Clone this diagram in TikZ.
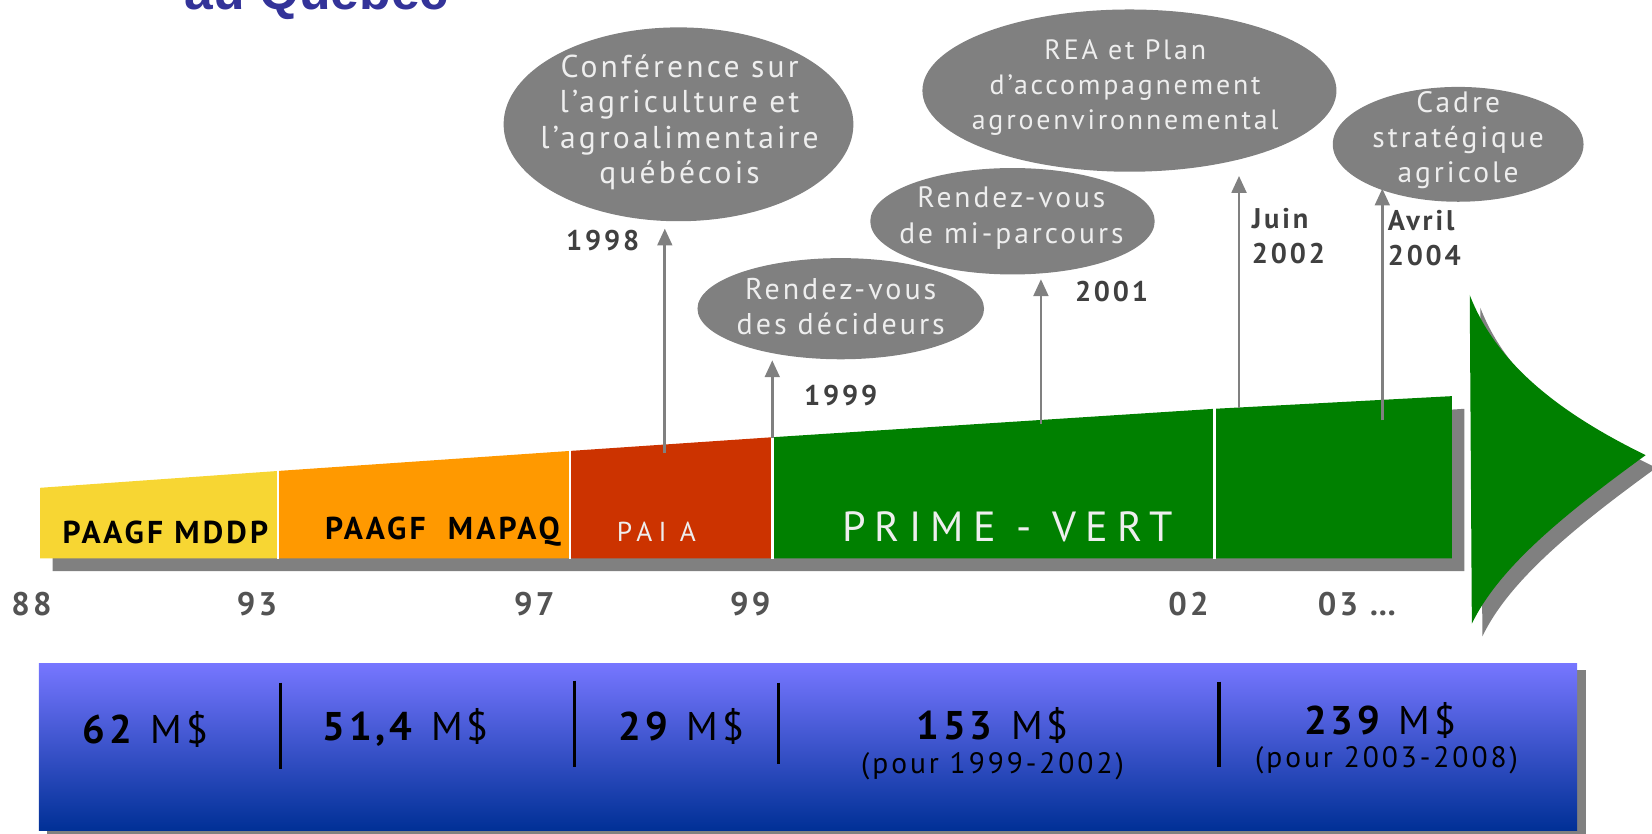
\documentclass[tikz,border=0pt]{standalone}
\usepackage{fontspec}
\setmainfont{PT Sans}
\newfontfamily\spacedfont{PT Sans}[LetterSpace=10]
\newfontfamily\widefont{PT Sans}[LetterSpace=22]
\newfontfamily\titlefont{Liberation Sans}
\usetikzlibrary{shapes.geometric,arrows.meta}

\definecolor{paagfyellow}{RGB}{247,214,51}
\definecolor{mapaqorange}{RGB}{255,153,0}
\definecolor{paiared}{RGB}{204,51,0}
\definecolor{primegreen}{RGB}{0,128,0}
\definecolor{shadowgray}{RGB}{128,128,128}
\definecolor{yeargray}{RGB}{64,64,64}
\definecolor{lighttext}{RGB}{238,238,238}
\definecolor{titleblue}{RGB}{51,51,153}
\definecolor{paneltop}{RGB}{118,118,255}
\definecolor{panelmid}{RGB}{82,88,214}
\definecolor{panelbottom}{RGB}{0,48,150}

\tikzset{
  bubble/.style={ellipse, fill=shadowgray, inner sep=0pt},
  bubbletext/.style={text=lighttext, align=center, inner sep=0pt,
    font=\spacedfont\fontsize{#1}{33.5}\selectfont},
  year/.style={text=yeargray, align=left, inner sep=0pt,
    font=\spacedfont\bfseries\fontsize{27}{34}\selectfont},
  tick/.style={text=yeargray!90, inner sep=0pt,
    font=\spacedfont\bfseries\fontsize{31}{34}\selectfont},
  pointer/.style={draw=shadowgray, line width=2.5pt,
    -{Triangle[length=16pt,width=14pt]}},
  bandtext/.style={inner sep=0pt, font=\spacedfont\bfseries\fontsize{30}{34}\selectfont},
  money/.style={inner sep=0pt, align=center, font=\spacedfont\fontsize{38}{42}\selectfont},
  moneysub/.style={inner sep=0pt, font=\spacedfont\fontsize{28}{32}\selectfont},
  divider/.style={draw=black, line width=3pt}
}

\begin{document}
\begin{tikzpicture}[x=1pt, y=-1pt]

\useasboundingbox (0,0) rectangle (1568,791);

\pgfmathsetmacro\bot{530}

% title, cut at the top of the page
\node[anchor=base west, inner sep=0pt, text=titleblue,
  font=\titlefont\bfseries\fontsize{49}{55}\selectfont] (title) at (175,9) {au Québec};

% plot the band shadow
\fill[shadowgray] (50,475) -- (1390,388) -- (1390,\bot+12) -- (50,\bot+12) -- cycle;

% plot the band
\fill[paagfyellow] (38,463) -- (264,447) -- (264,\bot) -- (38,\bot) -- cycle;
\fill[mapaqorange] (264,447) -- (541,428) -- (541,\bot) -- (264,\bot) -- cycle;
\fill[paiared] (541,428) -- (733,415) -- (733,\bot) -- (541,\bot) -- cycle;
\fill[primegreen] (733,415) -- (1153,388) -- (1153,\bot) -- (733,\bot) -- cycle;
\fill[primegreen] (1153,388) -- (1378,376) -- (1378,\bot) -- (1153,\bot) -- cycle;
\foreach \sx/\sy in {264/446, 541/427, 733/414, 1153/387}
  \draw[white, line width=2.5pt] (\sx,\sy) -- (\sx,\bot+1);

\node[bandtext] (mddp) at (157,505) {PAAGF MDDP};
\node[bandtext] (mapaq) at (420,505) {PAAGF\ \ MAPAQ};
\node[bandtext, text=lighttext, font=\widefont\fontsize{26}{30}\selectfont] (paia) at (623,505) {PAI A};
\node[inner sep=0pt, text=lighttext, font=\widefont\fontsize{40}{44}\selectfont] (prime) at (956,500) {PRIME - VERT};

% plot the arrow head
\fill[shadowgray, shift={(10,12)}] (1395,280) .. controls (1420,345) and (1480,392) .. (1562,432)
  .. controls (1482,490) and (1422,540) .. (1397,592) -- cycle;
\fill[primegreen] (1395,280) .. controls (1420,345) and (1480,392) .. (1562,432)
  .. controls (1482,490) and (1422,540) .. (1397,592) -- cycle;

% years under the band
\node[tick] (y88) at (30,573) {88};
\node[tick] (y93) at (244,573) {93};
\node[tick] (y97) at (507,573) {97};
\node[tick] (y99) at (712,573) {99};
\node[tick] (y02) at (1128,573) {02};
\node[tick] (y03) at (1288,573) {03 …};

% plot the bubbles
\node[bubble, minimum width=332pt, minimum height=184pt] (conf) at (644,118) {};
\node[bubbletext=30] (conftext) at (645,116) {Conférence sur\\l’agriculture et\\l’agroalimentaire\\québécois};

\node[bubble, minimum width=393pt, minimum height=154pt] (rea) at (1072,86) {};
\node[bubbletext=26.5] (reatext) at (1068,83) {REA et Plan\\d’accompagnement\\agroenvironnemental};

\node[bubble, minimum width=270pt, minimum height=101pt] (mip) at (961,210) {};
\node[bubbletext=28] (miptext) at (960,207) {Rendez-vous\\de mi-parcours};

\node[bubble, minimum width=272pt, minimum height=96pt] (dec) at (798,293) {};
\node[bubbletext=28.5] (dectext) at (798,291) {Rendez-vous\\des décideurs};

\node[bubble, minimum width=238pt, minimum height=109pt] (cadre) at (1384,137) {};
\node[bubbletext=28] (cadretext) at (1384,133) {Cadre\\stratégique\\agricole};

% plot the pointers
\coordinate (b98) at (631,430);
\coordinate (t98) at (631,217);
\draw[pointer] (b98) -- (t98);
\node[year] (l98) at (572,228) {1998};

\coordinate (b99) at (733,416);
\coordinate (t99) at (733,342);
\draw[pointer] (b99) -- (t99);
\node[year] (l99) at (798,375) {1999};

\coordinate (b01) at (988,402);
\coordinate (t01) at (988,265);
\draw[pointer] (b01) -- (t01);
\node[year] (l01) at (1055,277) {2001};

\coordinate (b02) at (1176,387);
\coordinate (t02) at (1176,167);
\draw[pointer] (b02) -- (t02);
\node[year, anchor=west] (l02) at (1188,224) {Juin\\2002};

\coordinate (b04) at (1312,399);
\coordinate (t04) at (1312,179);
\draw[pointer] (b04) -- (t04);
\node[year, anchor=west] (l04) at (1317,226) {Avril\\2004};

% plot the budget panel
\fill[shadowgray] (45,636) rectangle (1505,796);
\shade[top color=paneltop, middle color=panelmid, bottom color=panelbottom] (37,630) rectangle (1497,788);

\draw[divider] (266,648) -- (266,730);
\draw[divider] (545,646) -- (545,728);
\draw[divider] (739,648) -- (739,725);
\draw[divider] (1157,647) -- (1157,728);

\node[money] (m62) at (138,692) {\textbf{62} M\$};
\node[money] (m51) at (385,690) {\textbf{51,4} M\$};
\node[money] (m29) at (647,690) {\textbf{29} M\$};
\node[money] (m153) at (942,689) {\textbf{153} M\$};
\node[moneysub] (p153) at (942,727) {(pour 1999-2002)};
\node[money] (m239) at (1310,684) {\textbf{239} M\$};
\node[moneysub] (p239) at (1316,722) {(pour 2003-2008)};

\end{tikzpicture}
\end{document}
